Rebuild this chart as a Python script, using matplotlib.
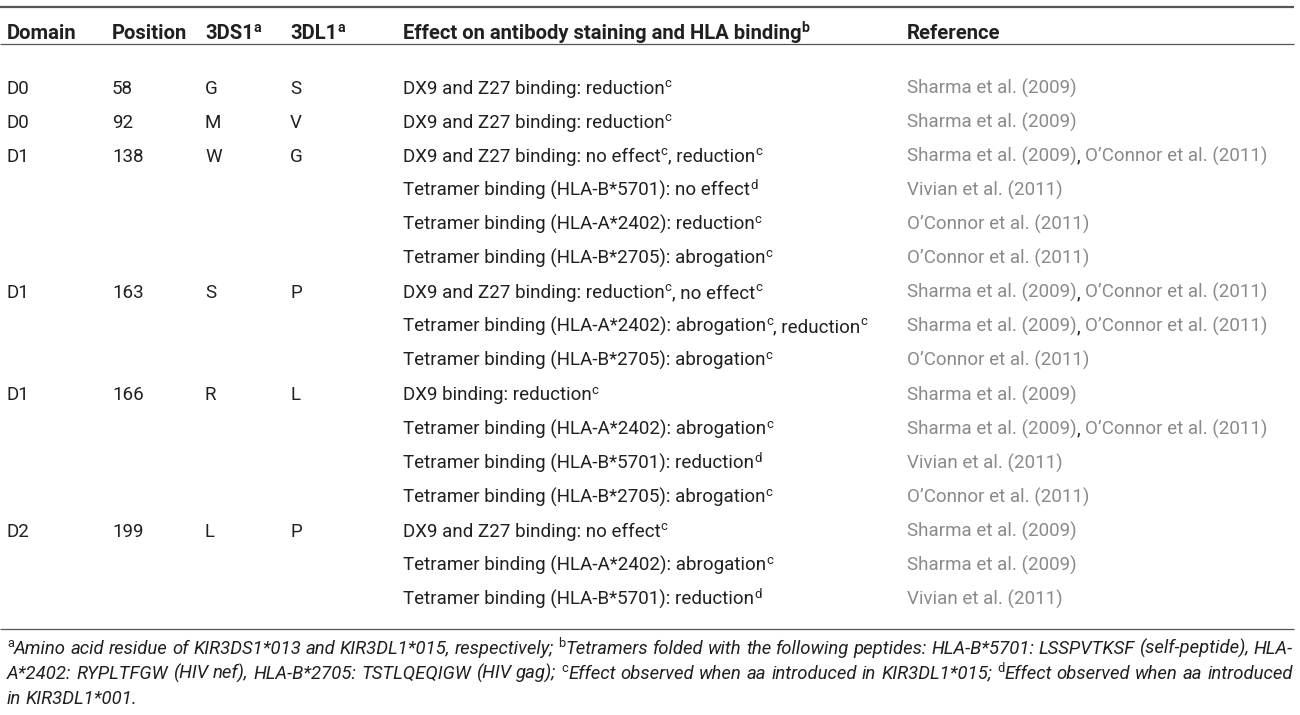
import matplotlib
matplotlib.use("Agg")
import matplotlib.pyplot as plt

# ---------------- data ----------------
headers = ["Domain", "Position", "3DS1^a", "3DL1^a",
           "Effect on antibody staining and HLA binding^b", "Reference"]

domains = ["D0", "D0", "D1", "", "", "", "D1", "", "", "D1", "", "", "", "D2", "", ""]
positions = ["58", "92", "138", "", "", "", "163", "", "", "166", "", "", "", "199", "", ""]
res_3ds1 = ["G", "M", "W", "", "", "", "S", "", "", "R", "", "", "", "L", "", ""]
res_3dl1 = ["S", "V", "G", "", "", "", "P", "", "", "L", "", "", "", "P", "", ""]
effects = [
    "DX9 and Z27 binding: reduction^c",
    "DX9 and Z27 binding: reduction^c",
    "DX9 and Z27 binding: no effect^c, reduction^c",
    "Tetramer binding (HLA-B*5701): no effect^d",
    "Tetramer binding (HLA-A*2402): reduction^c",
    "Tetramer binding (HLA-B*2705): abrogation^c",
    "DX9 and Z27 binding: reduction^c, no effect^c",
    "Tetramer binding (HLA-A*2402): abrogation^c, reduction^c",
    "Tetramer binding (HLA-B*2705): abrogation^c",
    "DX9 binding: reduction^c",
    "Tetramer binding (HLA-A*2402): abrogation^c",
    "Tetramer binding (HLA-B*5701): reduction^d",
    "Tetramer binding (HLA-B*2705): abrogation^c",
    "DX9 and Z27 binding: no effect^c",
    "Tetramer binding (HLA-A*2402): abrogation^c",
    "Tetramer binding (HLA-B*5701): reduction^d",
]
references = [
    ["Sharma et al. (2009)"],
    ["Sharma et al. (2009)"],
    ["Sharma et al. (2009)", "O\u2019Connor et al. (2011)"],
    ["Vivian et al. (2011)"],
    ["O\u2019Connor et al. (2011)"],
    ["O\u2019Connor et al. (2011)"],
    ["Sharma et al. (2009)", "O\u2019Connor et al. (2011)"],
    ["Sharma et al. (2009)", "O\u2019Connor et al. (2011)"],
    ["O\u2019Connor et al. (2011)"],
    ["Sharma et al. (2009)"],
    ["Sharma et al. (2009)", "O\u2019Connor et al. (2011)"],
    ["Vivian et al. (2011)"],
    ["O\u2019Connor et al. (2011)"],
    ["Sharma et al. (2009)"],
    ["Sharma et al. (2009)"],
    ["Vivian et al. (2011)"],
]
footnotes = [
    "^aAmino acid residue of KIR3DS1*013 and KIR3DL1*015, respectively; ^bTetramers folded with the following peptides: HLA-B*5701: LSSPVTKSF (self-peptide), HLA-",
    "A*2402: RYPLTFGW (HIV nef), HLA-B*2705: TSTLQEQIGW (HIV gag); ^cEffect observed when aa introduced in KIR3DL1*015; ^dEffect observed when aa introduced",
    "in KIR3DL1*001.",
]
footnote_justify = [True, True, False]

# ---------------- layout ----------------
W, H = 1300, 715
col_x = [7, 112, 205, 290, 403, 907]
header_y = 32
row_y0, row_step = 87, 34.07
FS = 13.5
FS_HEAD = 14.6
DARK = "#231f20"
GREY = "#8a8a8a"
FONT = ["Roboto", "DejaVu Sans"]
BODY_W = "normal"
left, right = 7, 1293

fig = plt.figure(figsize=(W / 100, H / 100), dpi=100)
ax = fig.add_axes([0, 0, 1, 1])
ax.set_xlim(0, W)
ax.set_ylim(H, 0)
ax.axis("off")
fig.canvas.draw()
renderer = fig.canvas.get_renderer()


def parse(s):
    """split string into (text, is_super) pieces; '^x' marks a superscript char"""
    out, buf, i = [], "", 0
    while i < len(s):
        if s[i] == "^" and i + 1 < len(s):
            if buf:
                out.append((buf, False))
                buf = ""
            out.append((s[i + 1], True))
            i += 2
        else:
            buf += s[i]
            i += 1
    if buf:
        out.append((buf, False))
    return out


def width_px(t):
    return t.get_window_extent(renderer=renderer).width


def draw_pieces(x, y, pieces, fs, color=DARK, weight=BODY_W, style="normal",
                draw=True):
    """pieces: list of (text, is_super, color or None). returns end x"""
    for txt, sup, col in pieces:
        size = fs * 0.7 if sup else fs
        yy = y - fs * 0.5 if sup else y
        st = "normal" if sup else style
        t = ax.text(x, yy, txt, fontsize=size, family=FONT, color=col or color,
                    weight=weight, style=st, va="baseline", ha="left")
        w = width_px(t)
        if not draw:
            t.remove()
        x += w
    return x


def baseline(yc, fs):
    # convert text visual centre to baseline (cap height ~0.71 em)
    return yc + fs * 100 / 72 * 0.71 / 2


# rules
ax.plot([0, 1294], [7, 7], color="#555555", lw=1.6, solid_capstyle="butt")
ax.plot([0, 1294], [44, 44], color="#555555", lw=0.9, solid_capstyle="butt")
ax.plot([0, 1294], [629, 629], color="#555555", lw=0.9, solid_capstyle="butt")

# header
hb = baseline(header_y, FS_HEAD)
for x, h in zip(col_x, headers):
    draw_pieces(x, hb, [(p, s, None) for p, s in parse(h)], FS_HEAD, weight="bold")

# rows
for i in range(len(effects)):
    yb = baseline(row_y0 + i * row_step, FS)
    for x, val in zip(col_x[:4], [domains[i], positions[i], res_3ds1[i], res_3dl1[i]]):
        if val:
            draw_pieces(x, yb, [(val, False, None)], FS)
    draw_pieces(col_x[4], yb, [(p, s, None) for p, s in parse(effects[i])], FS)
    pcs = []
    for k, r in enumerate(references[i]):
        if k > 0:
            pcs.append((", ", False, DARK))
        pcs.append((r, False, GREY))
    draw_pieces(col_x[5], yb, pcs, FS)


# footnotes (justified); font size fitted so the first line has natural spacing
def line_metrics(line, fs):
    words = line.split(" ")
    wp = [[(p, s, None) for p, s in parse(w)] for w in words]
    ws = [draw_pieces(0, 0, p, fs, style="italic", draw=False) for p in wp]
    return words, wp, ws


def space_w(fs):
    a = ax.text(0, 0, "a a", fontsize=fs, family=FONT, style="italic", weight=BODY_W)
    b = ax.text(0, 0, "aa", fontsize=fs, family=FONT, style="italic", weight=BODY_W)
    g = width_px(a) - width_px(b)
    a.remove(); b.remove()
    return g


fs0 = 12.0
_, _, ws0 = line_metrics(footnotes[0], fs0)
nat = sum(ws0) + space_w(fs0) * (len(ws0) - 1)
FS_FOOT = fs0 * (right - left) / nat * 0.995

foot_y = [647, 672, 697]
for line, yc, just in zip(footnotes, foot_y, footnote_justify):
    yb = baseline(yc, FS_FOOT)
    words, wpieces, widths = line_metrics(line, FS_FOOT)
    if just and len(words) > 1:
        gap = (right - left - sum(widths)) / (len(words) - 1)
    else:
        gap = space_w(FS_FOOT)
    x = left
    for wp, w in zip(wpieces, widths):
        draw_pieces(x, yb, wp, FS_FOOT, style="italic")
        x += w + gap

fig.savefig("out.png", dpi=100)
